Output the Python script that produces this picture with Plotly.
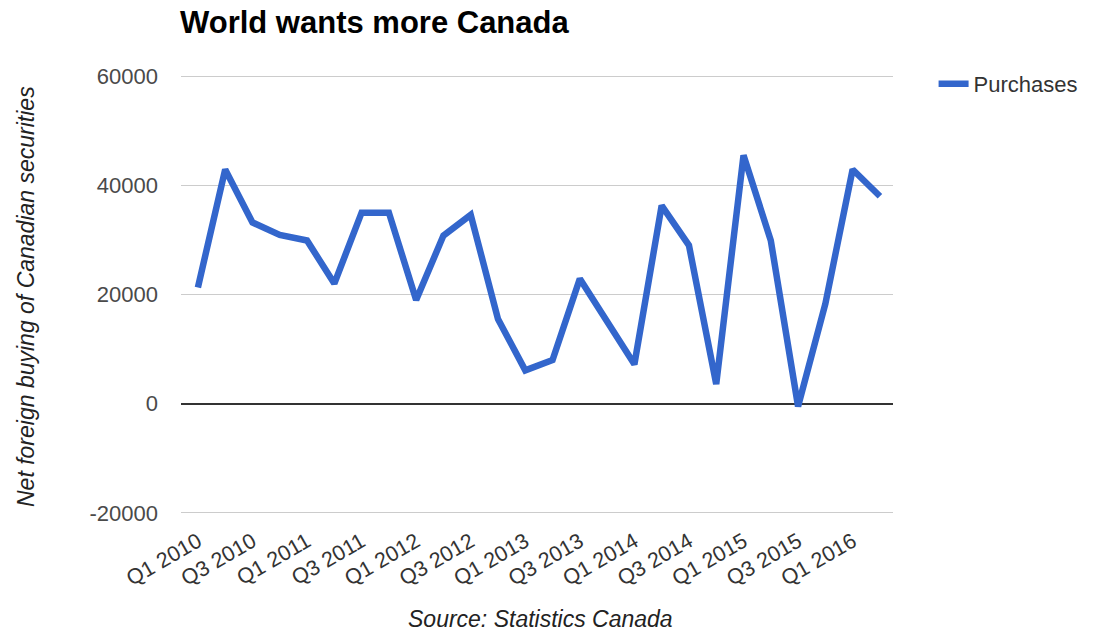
import plotly.graph_objects as go

quarters = ["Q1 2010", "Q2 2010", "Q3 2010", "Q4 2010",
            "Q1 2011", "Q2 2011", "Q3 2011", "Q4 2011",
            "Q1 2012", "Q2 2012", "Q3 2012", "Q4 2012",
            "Q1 2013", "Q2 2013", "Q3 2013", "Q4 2013",
            "Q1 2014", "Q2 2014", "Q3 2014", "Q4 2014",
            "Q1 2015", "Q2 2015", "Q3 2015", "Q4 2015",
            "Q1 2016", "Q2 2016"]
purchases = [21300, 42900, 33200, 30900, 29900, 22000, 35000, 35000,
             19000, 30800, 34600, 15500, 6100, 8000, 22900, 15000,
             7200, 36300, 29000, 3600, 45500, 29900, -500, 18300,
             42900, 38000]
y_ticks = [-20000, 0, 20000, 40000, 60000]
x_tick_labels = quarters[::2]

FONT = "Arial, Liberation Sans, sans-serif"

fig = go.Figure()
fig.add_trace(go.Scatter(
    x=quarters, y=purchases, mode="lines", name="Purchases",
    line=dict(color="#3366CC", width=6.5),
))

fig.update_layout(
    width=1093, height=633,
    margin=dict(l=181, r=200, t=74, b=118, autoexpand=False),
    paper_bgcolor="white", plot_bgcolor="white",
    font=dict(family=FONT, size=22, color="#444444"),
    title=dict(text="<b>World wants more Canada</b>", x=180/1093, xanchor="left",
               xref="container", y=1-22/633, yref="container", yanchor="middle",
               font=dict(family=FONT, size=31, color="#000000")),
    showlegend=True,
    legend=dict(x=1.057, xanchor="left", y=1.025, yanchor="top",
                font=dict(family=FONT, size=22, color="#333333"),
                bgcolor="rgba(0,0,0,0)"),
    xaxis=dict(
        type="category", categoryorder="array", categoryarray=quarters,
        range=[-0.62, 25.48],
        tickmode="array", tickvals=x_tick_labels, ticktext=x_tick_labels,
        tickangle=-30, showgrid=False, zeroline=False, showline=False,
        ticks="", ticklabelstandoff=9,
        tickfont=dict(family=FONT, size=21.5, color="#333333"),
        fixedrange=True,
    ),
    yaxis=dict(
        range=[-20400, 60400], tickmode="array", tickvals=y_ticks,
        ticktext=[str(v) for v in y_ticks],
        showgrid=True, gridcolor="#cccccc", gridwidth=1,
        zeroline=True, zerolinecolor="#333333", zerolinewidth=1.5,
        showline=False, ticks="", ticklabelstandoff=22,
        tickfont=dict(family=FONT, size=22, color="#4a4a4a"),
        fixedrange=True,
    ),
    annotations=[
        dict(text="<i>Net foreign buying of Canadian securities</i>",
             xref="paper", yref="paper", x=(26-181)/712, y=(515-297)/441,
             xanchor="center", yanchor="middle", textangle=-90, showarrow=False,
             font=dict(family=FONT, size=23, color="#222222")),
        dict(text="<i>Source: Statistics Canada</i>",
             xref="paper", yref="paper", x=(540-181)/712, y=(515-619)/441,
             xanchor="center", yanchor="middle", showarrow=False,
             font=dict(family=FONT, size=23, color="#222222")),
    ],
)

fig.write_html("out.html")
